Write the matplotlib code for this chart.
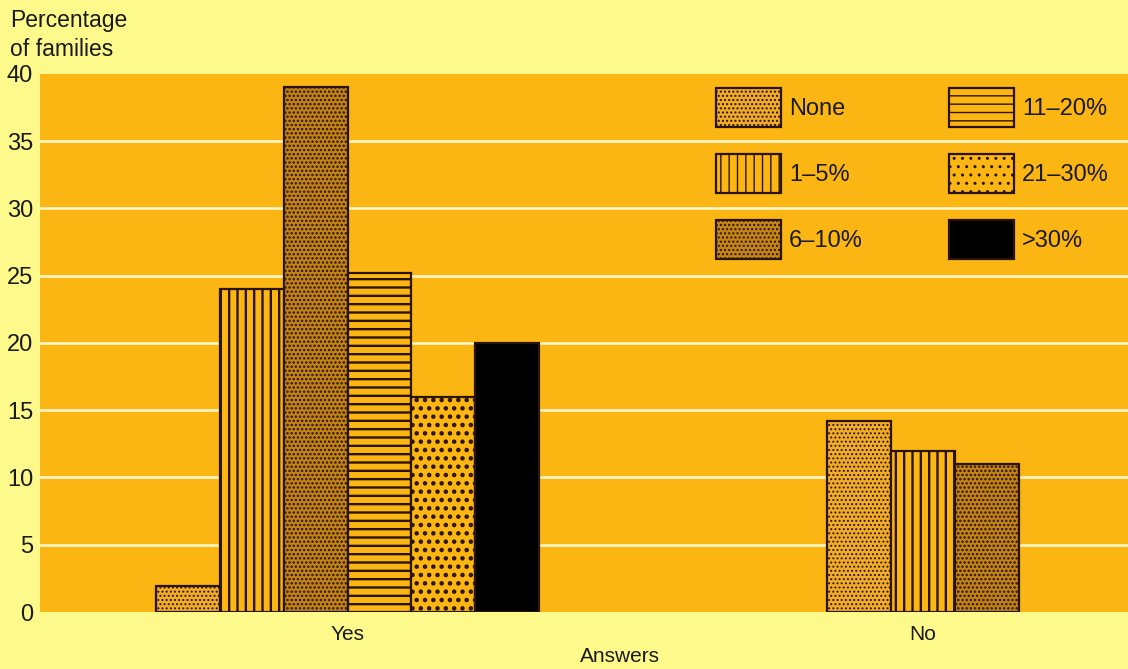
import numpy as np
import matplotlib as mpl
import matplotlib.pyplot as plt

# share of income spent, by answer group
categories = ["None", "1–5%", "6–10%", "11–20%", "21–30%", ">30%"]
groups = ["Yes", "No"]
yes_values = [1.9, 24.0, 39.0, 25.2, 16.0, 20.0]
no_values = [14.2, 12.0, 11.0]
yticks = [0, 5, 10, 15, 20, 25, 30, 35, 40]

PAPER = "#fdf98a"
PANEL = "#fbb614"
INK = "#2a1400"
TEXT = "#1a1a1a"

# fill, hatch, hatch line width for each category
styles = {
    "None": ("#f2ac2a", "....", 0.9),
    "1–5%": (PANEL, "||", 1.7),
    "6–10%": ("#c48418", "....", 1.2),
    "11–20%": (PANEL, "--", 1.7),
    "21–30%": (PANEL, "..", 2.0),
    ">30%": ("#000000", "", 1.0),
}

plt.rcParams["font.family"] = ["Liberation Sans", "DejaVu Sans"]
plt.rcParams["hatch.color"] = INK

fig = plt.figure(figsize=(11.28, 6.69), dpi=100, facecolor=PAPER)
ax = fig.add_axes([0.0355, 0.0852, 0.9645, 0.8042])
ax.set_facecolor(PANEL)

group_pos = [0.0, 9.0]
handles = {}
for g, vals in zip(group_pos, [yes_values, no_values]):
    n = len(vals)
    offsets = np.arange(n) - (n - 1) / 2
    for cat, off, v in zip(categories, offsets, vals):
        fc, hatch, hlw = styles[cat]
        with mpl.rc_context({"hatch.linewidth": hlw}):
            b = ax.bar(g + off, v, width=1.0, color=fc, edgecolor=INK,
                       linewidth=1.6, hatch=hatch, zorder=3)
        for p in b:
            if hasattr(p, "set_hatch_linewidth"):
                p.set_hatch_linewidth(hlw)
        handles.setdefault(cat, b[0])

ax.set_xlim(-4.81, 12.21)
ax.set_ylim(0, 40)
ax.set_yticks(yticks)
ax.set_xticks(group_pos)
ax.set_xticklabels(groups, fontsize=15)
ax.tick_params(length=0, colors=TEXT)
ax.tick_params(axis="y", labelsize=17, pad=5)
ax.tick_params(axis="x", pad=9)

for y in yticks[1:-1]:
    ax.axhline(y, color="#fff6c8", lw=1.9, zorder=2)
for s in ax.spines.values():
    s.set_visible(False)

ax.set_xlabel("Answers", fontsize=15, color=TEXT)
ax.xaxis.set_label_coords(0.533, -0.083)
ax.xaxis.label.set_verticalalignment("center")

fig.text(0.009, 0.986, "Percentage\nof families", fontsize=16.5, color=TEXT,
         va="top", ha="left", linespacing=1.3)

leg = ax.legend([handles[c] for c in categories], categories, ncol=2,
                loc="upper left", bbox_to_anchor=(0.621, 0.974),
                frameon=False, fontsize=17, handlelength=2.75,
                handleheight=2.16, labelspacing=1.15, handletextpad=0.35,
                columnspacing=3.65, borderpad=0, borderaxespad=0)
for t in leg.get_texts():
    t.set_color(TEXT)

fig.savefig("out.png", dpi=100, facecolor=PAPER)
